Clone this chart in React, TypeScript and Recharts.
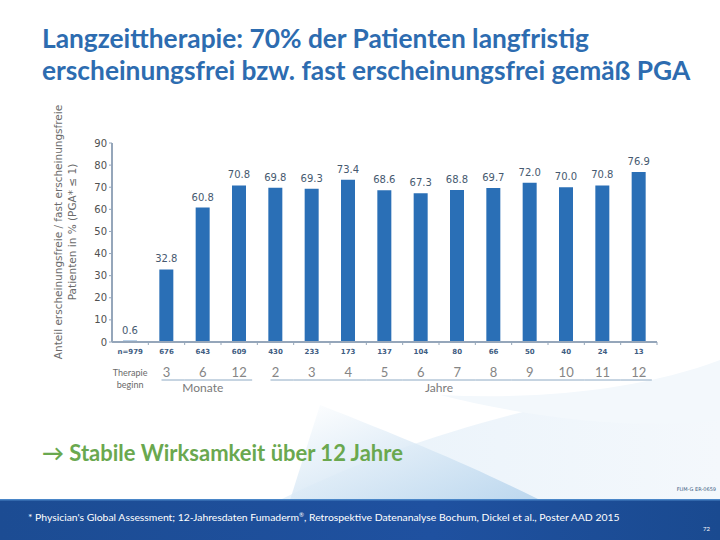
import React from 'react';
import { BarChart, Bar, XAxis, YAxis, LabelList } from 'recharts';

const patients = ['n=979', '676', '643', '609', '430', '233', '173', '137', '104', '80', '66', '50', '40', '24', '13'];
const periods = ['Therapie beginn', '3', '6', '12', '2', '3', '4', '5', '6', '7', '8', '9', '10', '11', '12'];
const groups = ['', 'Monate', 'Monate', 'Monate', 'Jahre', 'Jahre', 'Jahre', 'Jahre', 'Jahre', 'Jahre', 'Jahre', 'Jahre', 'Jahre', 'Jahre', 'Jahre'];
const clearRate = [0.6, 32.8, 60.8, 70.8, 69.8, 69.3, 73.4, 68.6, 67.3, 68.8, 69.7, 72.0, 70.0, 70.8, 76.9];
const yTicks = [0, 10, 20, 30, 40, 50, 60, 70, 80, 90];

const data = patients.map((n, i) => ({ n, period: periods[i], group: groups[i], value: clearRate[i] }));

const W = 720;
const H = 540;
const LEFT = 90;
const YW = 22;
const RIGHT = 63;
const TOP = 143;
const AXIS_Y = 342;
const BAND = (W - LEFT - YW - RIGHT) / patients.length;

const BAR = '#2a6fb6';
const AXIS = '#95a6ba';

const NTick = (props: any) => {
  const { x, payload } = props;
  return (
    <g>
      <line x1={x + BAND / 2} x2={x + BAND / 2} y1={AXIS_Y} y2={AXIS_Y + 3} stroke={AXIS} strokeWidth={1} />
      <text x={x} y={AXIS_Y + 12} textAnchor="middle" fontSize={7} fontWeight={700} fill="#3f5d82" fontFamily="DejaVu Sans">
        {payload.value}
      </text>
    </g>
  );
};

const PeriodTick = (props: any) => {
  const { x, payload, index } = props;
  const row = data[index];
  if (index === 0) {
    return (
      <g fontFamily="Lato, sans-serif" fontSize={9} fill="#6a6a6a">
        <text x={x} y={AXIS_Y + 34} textAnchor="middle">Therapie</text>
        <text x={x} y={AXIS_Y + 46} textAnchor="middle">beginn</text>
      </g>
    );
  }
  const first = data[index - 1].group !== row.group;
  const last = index === data.length - 1 || data[index + 1].group !== row.group;
  const x1 = first ? x - 5 : x - BAND / 2;
  const x2 = last ? x + 13 : x + BAND / 2;
  return (
    <g fontFamily="Lato, sans-serif">
      <text x={x} y={AXIS_Y + 35} textAnchor="middle" fontSize={13} fill="#858585">
        {payload.value}
      </text>
      <line x1={x1} x2={x2} y1={AXIS_Y + 38} y2={AXIS_Y + 38} stroke="#8eaac4" strokeWidth={1} />
      {index === 2 && (
        <text x={x} y={AXIS_Y + 50} textAnchor="middle" fontSize={12} fill="#7a7a7a">Monate</text>
      )}
      {index === 8 && (
        <text x={x + BAND / 2} y={AXIS_Y + 50} textAnchor="middle" fontSize={12} fill="#7a7a7a">Jahre</text>
      )}
    </g>
  );
};

const Background = () => (
  <svg width={W} height={H} style={{ position: 'absolute', left: 0, top: 0 }}>
    <defs>
      <linearGradient id="sw1" x1="0" y1="0" x2="1" y2="1">
        <stop offset="0%" stopColor="#ffffff" />
        <stop offset="100%" stopColor="#b3d2ec" />
      </linearGradient>
      <linearGradient id="sw2" x1="0" y1="0" x2="1" y2="0">
        <stop offset="0%" stopColor="#e8f2fa" />
        <stop offset="100%" stopColor="#f4f8fc" />
      </linearGradient>
      <linearGradient id="foot" x1="0" y1="0" x2="1" y2="0">
        <stop offset="0%" stopColor="#1c4c93" />
        <stop offset="60%" stopColor="#1f51a0" />
        <stop offset="100%" stopColor="#1a4a90" />
      </linearGradient>
    </defs>
    <rect width={W} height={H} fill="#ffffff" />
    <path d="M 280 500 C 420 430 560 400 720 370 L 720 500 Z" fill="url(#sw2)" />
    <path d="M 320 405 C 410 440 480 470 540 500 L 290 500 Z" fill="url(#sw1)" opacity={0.85} />
    <path d="M 440 395 C 540 400 640 390 720 360 L 720 420 C 640 430 540 420 440 395 Z" fill="#f3f8fc" />
    <rect x={0} y={500} width={W} height={40} fill="url(#foot)" />
    <rect x={0} y={499} width={W} height={1.5} fill="#4a86c8" />
  </svg>
);

export default function App() {
  return (
    <div style={{ position: 'absolute', left: 0, top: 0, width: W, height: H, overflow: 'hidden' }}>
      <Background />
      <div
        style={{
          position: 'absolute',
          left: 42,
          top: 22,
          fontFamily: 'Lato, sans-serif',
          fontWeight: 700,
          fontSize: 26.3,
          lineHeight: '32px',
          color: '#2d6cb0',
          whiteSpace: 'nowrap',
        }}
      >
        Langzeittherapie: 70% der Patienten langfristig
        <br />
        erscheinungsfrei bzw. fast erscheinungsfrei gemäß PGA
      </div>
      <div style={{ position: 'absolute', left: 0, top: 0 }}>
        <BarChart
          width={W}
          height={H}
          data={data}
          margin={{ top: TOP, right: RIGHT, left: LEFT, bottom: H - AXIS_Y - 70 }}
        >
          <YAxis
            domain={[0, 90]}
            ticks={yTicks}
            width={YW}
            interval={0}
            axisLine={{ stroke: AXIS, strokeWidth: 2 }}
            tickLine={{ stroke: AXIS }}
            tickSize={3}
            tick={{ fontSize: 10, fill: '#505050', fontFamily: 'DejaVu Sans' }}
          />
          <XAxis
            xAxisId="n"
            dataKey="n"
            height={20}
            interval={0}
            axisLine={{ stroke: AXIS, strokeWidth: 2 }}
            tickLine={false}
            tick={<NTick />}
          />
          <XAxis
            xAxisId="period"
            dataKey="period"
            height={50}
            interval={0}
            axisLine={false}
            tickLine={false}
            tick={<PeriodTick />}
          />
          <Bar xAxisId="n" dataKey="value" fill={BAR} barSize={14} isAnimationActive={false}>
            <LabelList
              dataKey="value"
              position="top"
              offset={7}
              formatter={(v: any) => Number(v).toFixed(1)}
              style={{ fontSize: 10, fill: '#46596f', fontFamily: 'DejaVu Sans' }}
            />
          </Bar>
        </BarChart>
      </div>
      <div style={{ position: 'absolute', left: 65, top: 232, width: 0, height: 0 }}>
        <div
          style={{
            position: 'absolute',
            left: 0,
            top: 0,
            transform: 'translate(-50%, -50%) rotate(-90deg)',
            textAlign: 'center',
            whiteSpace: 'nowrap',
            fontFamily: 'DejaVu Sans, sans-serif',
            fontSize: 10.5,
            lineHeight: '14px',
            color: '#6b6b6b',
          }}
        >
          Anteil erscheinungsfreie / fast erscheinungsfreie
          <br />
          Patienten in % (PGA* ≤ 1)
        </div>
      </div>
      <div
        style={{
          position: 'absolute',
          left: 42,
          top: 439,
          fontFamily: 'Lato, sans-serif',
          fontWeight: 700,
          fontSize: 22,
          color: '#6aa84f',
          whiteSpace: 'nowrap',
        }}
      >
        → Stabile Wirksamkeit über 12 Jahre
      </div>
      <div
        style={{
          position: 'absolute',
          right: 4,
          top: 486,
          fontFamily: 'DejaVu Sans, sans-serif',
          fontSize: 5,
          color: '#3f5d82',
        }}
      >
        FUM-G ER-0659
      </div>
      <div
        style={{
          position: 'absolute',
          left: 28,
          top: 511,
          fontFamily: 'Lato, sans-serif',
          fontSize: 10.4,
          color: '#ffffff',
          whiteSpace: 'nowrap',
        }}
      >
        * Physician's Global Assessment; 12-Jahresdaten Fumaderm<sup style={{ fontSize: 6 }}>®</sup>, Retrospektive
        Datenanalyse Bochum, Dickel et al., Poster AAD 2015
      </div>
      <div
        style={{
          position: 'absolute',
          right: 10,
          top: 525,
          fontFamily: 'Lato, sans-serif',
          fontSize: 6,
          color: '#ffffff',
        }}
      >
        72
      </div>
    </div>
  );
}
